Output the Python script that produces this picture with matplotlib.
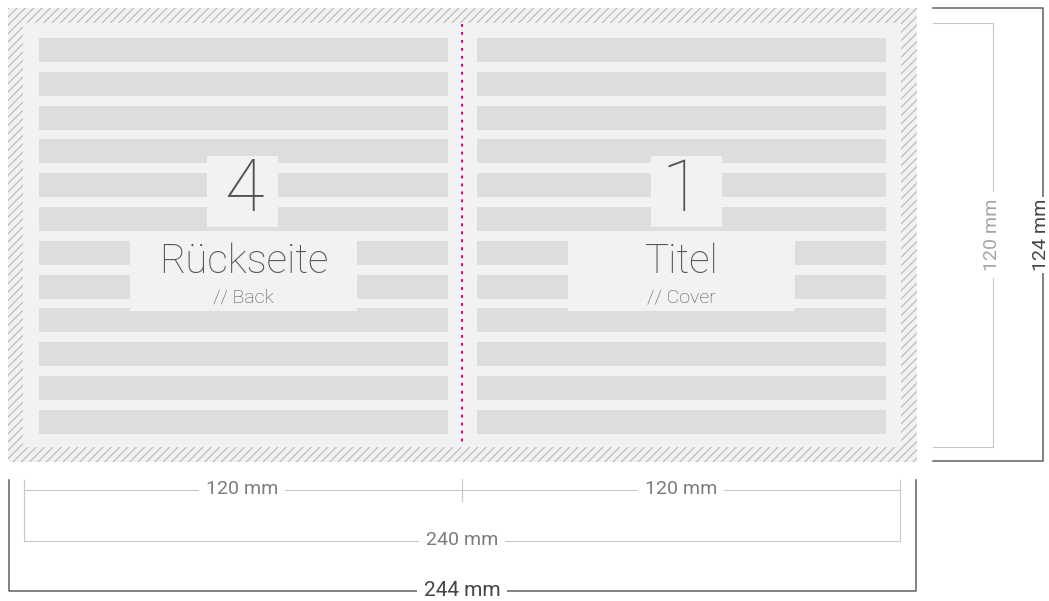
import matplotlib
matplotlib.use('Agg')
import matplotlib.pyplot as plt
from matplotlib.patches import Rectangle

# data: page sizes in mm and the labels
page_numbers = ['4', '1']
page_titles = ['Rückseite', 'Titel']
page_subtitles = ['// Back', '// Cover']
page_width_mm = [120, 120]
trim_width_mm = 240
bleed_width_mm = 244
trim_height_mm = 120
bleed_height_mm = 124
n_lines = 12

# colours
c_inner = '#f1f2f4'
c_bar = '#dcdddf'
c_hatch = '#bcbdbf'
c_text = '#525355'
c_dim = '#7b7c7e'
c_light = '#c6c7c9'
c_dark = '#5f6062'
c_fold = '#e6007e'

plt.rcParams['font.family'] = ['Roboto', 'DejaVu Sans']
plt.rcParams['hatch.linewidth'] = 0.9

fig = plt.figure(figsize=(10.49, 6.01), dpi=100)
ax = fig.add_axes([0, 0, 1, 1])
ax.set_xlim(0, 1049)
ax.set_ylim(601, 0)
ax.axis('off')

# bleed area (hatched) and trim area
ax.add_patch(Rectangle((8, 8), 909, 454, facecolor=c_inner, edgecolor=c_hatch,
                       lw=0, hatch='////'))
ax.add_patch(Rectangle((23, 23), 878, 424, facecolor=c_inner, lw=0))

# text lines on each page
pages_x = [(39, 448), (477, 886)]
bar_top, bar_pitch, bar_h = 38, 33.8, 24
for x0, x1 in pages_x:
    for i in range(n_lines):
        ax.add_patch(Rectangle((x0, bar_top + i * bar_pitch), x1 - x0, bar_h,
                               facecolor=c_bar, lw=0))

# fold line
ax.plot([462, 462], [24, 446], color=c_fold, lw=1.4, ls=(0, (1.5, 2.6)))

# page labels
num_boxes = [(207, 278), (651, 722)]
title_boxes = [(130, 357), (568, 795)]
for k, (x0, x1) in enumerate(pages_x):
    cx = (x0 + x1) / 2
    nb = num_boxes[k]
    tb = title_boxes[k]
    ax.add_patch(Rectangle((nb[0], 156), nb[1] - nb[0], 71, facecolor=c_inner, lw=0))
    ax.add_patch(Rectangle((tb[0], 232), tb[1] - tb[0], 79, facecolor=c_inner, lw=0))
    ax.text(cx, 191, page_numbers[k], ha='center', va='center', fontsize=52,
            fontweight='light', color=c_text)
    ax.text(cx, 262, page_titles[k], ha='center', va='center', fontsize=29,
            fontweight='light', color=c_text)
    ax.text(cx, 297, page_subtitles[k], ha='center', va='center', fontsize=14,
            fontweight='light', color=c_text)

lbl = dict(ha='center', va='center', fontsize=14,
           bbox=dict(facecolor='white', edgecolor='none', pad=5))

# width dimensions (bottom)
ax.plot([24, 900], [490, 490], color=c_light, lw=0.8)
ax.plot([462, 462], [479, 501], color=c_light, lw=0.8)
ax.text(242, 489, f'{page_width_mm[0]} mm', color=c_dim, fontweight='normal', **lbl)
ax.text(681, 489, f'{page_width_mm[1]} mm', color=c_dim, fontweight='normal', **lbl)

ax.plot([24, 24, 900, 900], [480, 541, 541, 480], color=c_light, lw=0.8)
ax.text(462, 540, f'{trim_width_mm} mm', color=c_dim, fontweight='normal', **lbl)

ax.plot([9, 9, 916, 916], [480, 591, 591, 480], color=c_dark, lw=1.1)
ax.text(462, 590, f'{bleed_width_mm} mm', color='#444546', fontweight='normal',
        **dict(lbl, fontsize=15))

# height dimensions (right)
ax.plot([933, 993, 993, 933], [23, 23, 447, 447], color=c_light, lw=0.8)
ax.text(992, 235, f'{trim_height_mm} mm', color='#a4a5a7', fontweight='normal',
        rotation=90, **lbl)

ax.plot([933, 1043, 1043, 933], [8, 8, 461, 461], color=c_dark, lw=1.1)
ax.text(1041, 235, f'{bleed_height_mm} mm', color='#444546', fontweight='normal',
        rotation=90, **dict(lbl, bbox=dict(facecolor='white', edgecolor='none', pad=1)))

fig.savefig('out.png', dpi=100, facecolor='white')
